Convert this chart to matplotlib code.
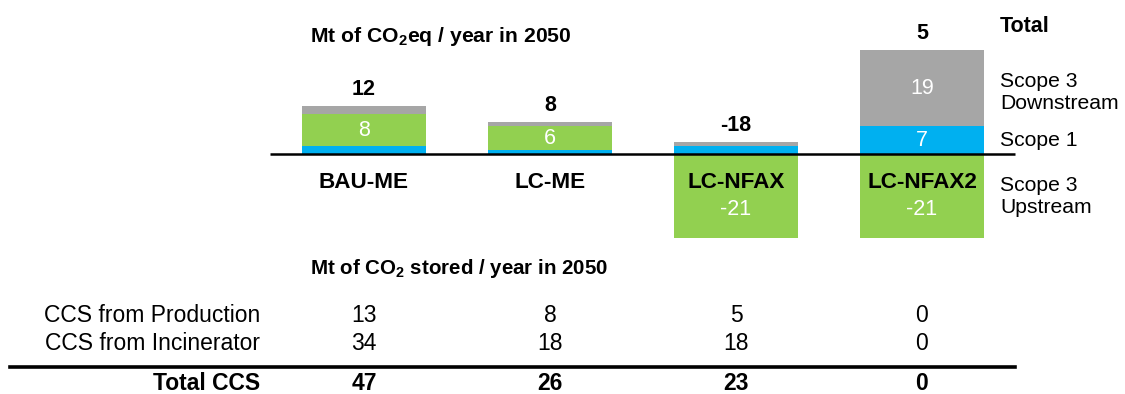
import matplotlib
matplotlib.use("Agg")
import matplotlib.pyplot as plt
from matplotlib.lines import Line2D
from matplotlib.transforms import blended_transform_factory

plt.rcParams["font.family"] = ["Liberation Sans", "DejaVu Sans"]
plt.rcParams["mathtext.fontset"] = "custom"
plt.rcParams["mathtext.rm"] = "Liberation Sans"
plt.rcParams["mathtext.bf"] = "Liberation Sans:bold"

# Emissions by scope, Mt CO2eq / year in 2050
scenarios = ["BAU-ME", "LC-ME", "LC-NFAX", "LC-NFAX2"]
scope1 = [2, 1, 2, 7]
scope3_upstream = [8, 6, -21, -21]
scope3_downstream = [2, 1, 1, 19]

# CCS, Mt CO2 stored / year in 2050
ccs_labels = ["CCS from Production", "CCS from Incinerator"]
ccs_production = [13, 8, 5, 0]
ccs_incinerator = [34, 18, 18, 0]

COL_S1 = "#00B0F0"
COL_UP = "#92D050"
COL_DOWN = "#A6A6A6"

W, H = 1125, 394
fig = plt.figure(figsize=(W / 100, H / 100), dpi=100)
ax = fig.add_axes([0, 0, 1, 1])
ax.axis("off")

# pixel layout: category centres 186 px apart, 4 px per Mt, zero line at 154 px
X0, DX, Y0, PXU = 364, 186, 154, 4.0
ax.set_xlim(-X0 / DX, (W - X0) / DX)
ax.set_ylim(-(H - Y0) / PXU, Y0 / PXU)

def fy(py):
    return 1 - py / H

x = list(range(len(scenarios)))
bw = 124 / DX

for i in x:
    s1, up, dn = scope1[i], scope3_upstream[i], scope3_downstream[i]
    pos = s1
    ax.bar(i, s1, bottom=0, width=bw, color=COL_S1, zorder=2)
    segs = [(s1, s1 / 2)]
    if up >= 0:
        ax.bar(i, up, bottom=pos, width=bw, color=COL_UP, zorder=2)
        segs.append((up, pos + up / 2))
        pos += up
    else:
        ax.bar(i, up, bottom=0, width=bw, color=COL_UP, zorder=2)
        segs.append((up, up * 0.655))
    ax.bar(i, dn, bottom=pos, width=bw, color=COL_DOWN, zorder=2)
    segs.append((dn, pos + dn / 2))
    top = pos + dn
    total = s1 + up + dn
    for v, yc in segs:
        if abs(v) >= 5:
            ax.text(i, yc, f"{v}", color="white", fontsize=15.5,
                    ha="center", va="center", zorder=3)
    ax.annotate(f"{total}", (i, top), xytext=(0, 12), textcoords="offset points",
                ha="center", va="center", fontsize=15.5, fontweight="bold")
    ax.text(i, -7, scenarios[i], ha="center", va="center",
            fontsize=16.2, fontweight="bold", zorder=3)

# zero line
ax.plot([(270 - X0) / DX, (1015 - X0) / DX], [0, 0], color="black", lw=1.8, zorder=4,
        solid_capstyle="butt")

# series names beside the last bar
last = len(scenarios) - 1
lx = (1000 - X0) / DX
s1, up, dn = scope1[last], scope3_upstream[last], scope3_downstream[last]
ax.annotate("Scope 3\nDownstream", (lx, s1 + dn / 2), xytext=(0, -3),
            textcoords="offset points", ha="left", va="center", fontsize=15.2)
ax.text(lx, s1 / 2, "Scope 1", ha="left", va="center", fontsize=15.2)
ax.text(lx, up / 2, "Scope 3\nUpstream", ha="left", va="center", fontsize=15.2)
ax.annotate("Total", (lx, s1 + dn), xytext=(0, 17), textcoords="offset points",
            ha="left", va="center", fontsize=15.5, fontweight="bold")

fig.text(310 / W, fy(36), r"Mt of CO$_\mathbf{2}$eq / year in 2050",
         ha="left", va="center", fontsize=15.2, fontweight="bold")

# CCS table
fig.text(310 / W, fy(268), r"Mt of CO$_\mathbf{2}$ stored / year in 2050",
         ha="left", va="center", fontsize=14.8, fontweight="bold")

tr = blended_transform_factory(ax.transData, fig.transFigure)
ccs_total = [a + b for a, b in zip(ccs_production, ccs_incinerator)]
rows = [(ccs_labels[0], ccs_production, 315, "normal"),
        (ccs_labels[1], ccs_incinerator, 344, "normal"),
        ("Total CCS", ccs_total, 383, "bold")]
for label, vals, py, wt in rows:
    fig.text(260 / W, fy(py), label, ha="right", va="center",
             fontsize=16.5, fontweight=wt)
    for i, v in zip(x, vals):
        ax.text(i, fy(py), f"{v}", transform=tr, ha="center", va="center",
                fontsize=16.5, fontweight=wt)

fig.add_artist(Line2D([10 / W, 1015 / W], [fy(367), fy(367)], color="black",
                      lw=2.6, transform=fig.transFigure))

fig.savefig("out.png", dpi=100, facecolor="white")
